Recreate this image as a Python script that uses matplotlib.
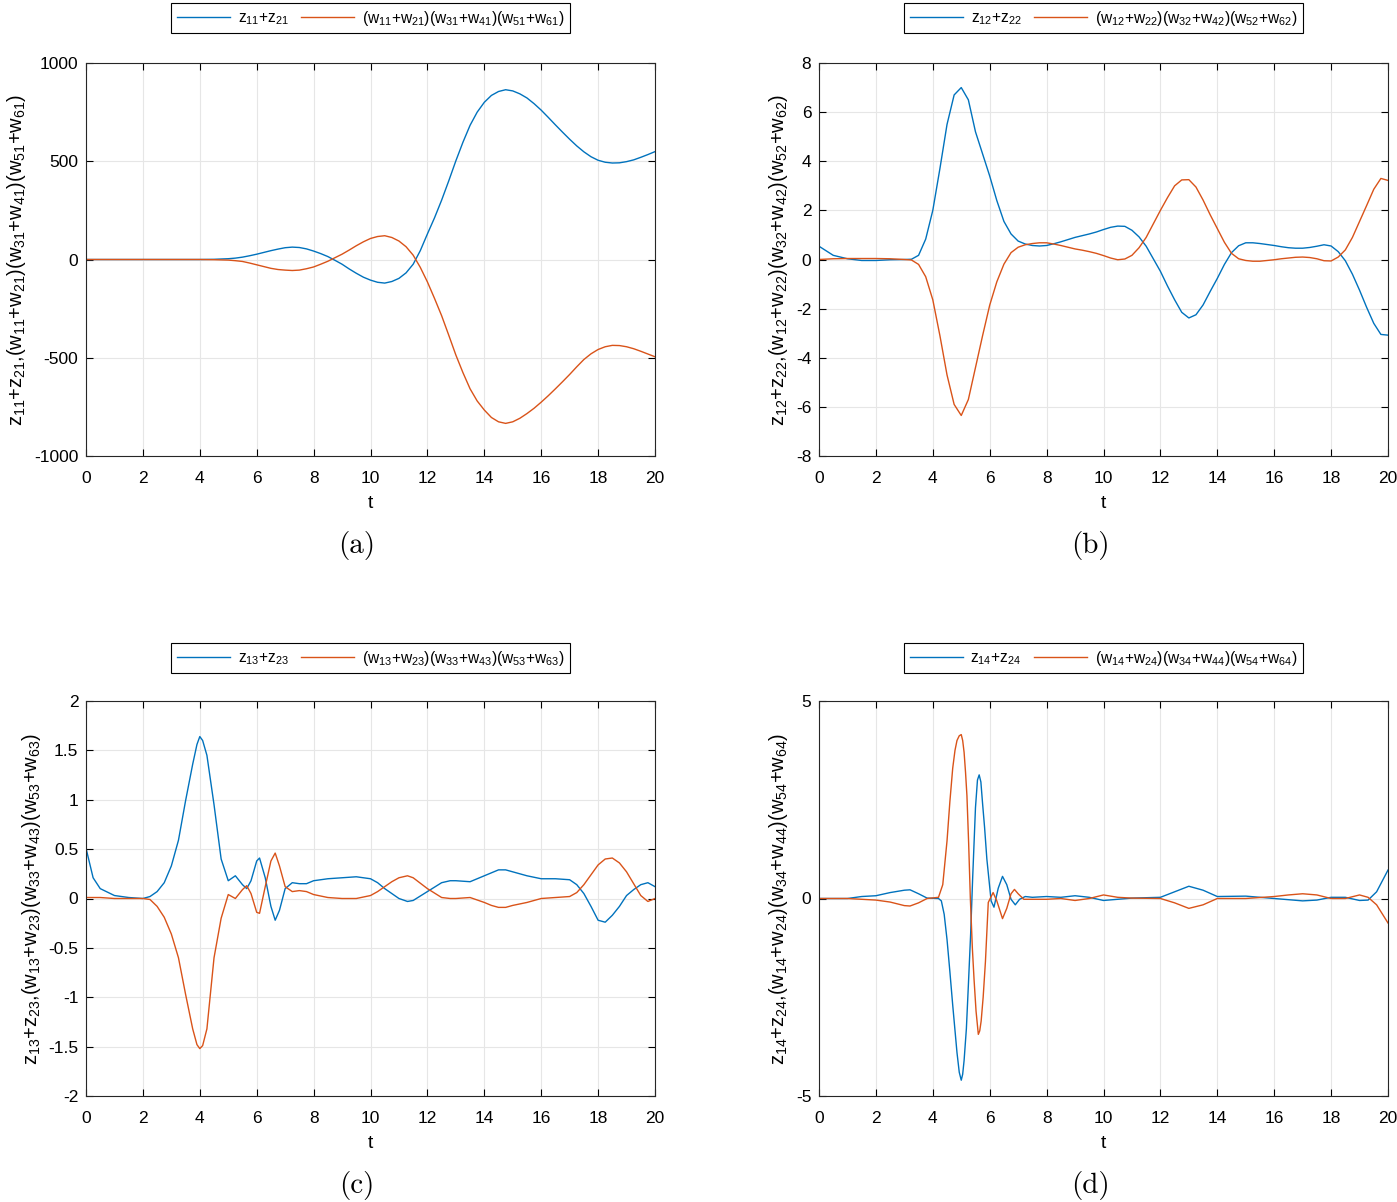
import matplotlib
matplotlib.use('Agg')
import matplotlib.pyplot as plt

plt.rcParams['font.family'] = ['Liberation Sans', 'DejaVu Sans']
plt.rcParams['mathtext.default'] = 'regular'
plt.rcParams['axes.unicode_minus'] = False

# panel (a) values
t_a = [0, 1, 2, 3, 4, 4.5, 5, 5.25, 5.5, 5.75, 6, 6.25, 6.5, 6.75, 7, 7.25, 7.5, 7.75, 8, 8.25, 8.5, 8.75,
       9, 9.25, 9.5, 9.75, 10, 10.25, 10.5, 10.75, 11, 11.25, 11.5, 11.75, 12, 12.25, 12.5, 12.75, 13, 13.25,
       13.5, 13.75, 14, 14.25, 14.5, 14.75, 15, 15.25, 15.5, 15.75, 16, 16.25, 16.5, 16.75, 17, 17.25, 17.5,
       17.75, 18, 18.25, 18.5, 18.75, 19, 19.25, 19.5, 19.75, 20]
z_a = [0, 0, 0, 0, 0, 1, 4, 7, 12, 19, 27, 36, 45, 53, 60, 63, 61, 54, 43, 30, 15, -4,
       -24, -48, -70, -90, -105, -116, -120, -112, -96, -68, -24, 45, 130, 212, 302, 400, 502, 597,
       683, 750, 800, 835, 855, 864, 858, 843, 822, 793, 760, 723, 685, 648, 612, 578, 548,
       523, 505, 495, 491, 492, 498, 507, 520, 534, 549]
w_a = [0, 0, 0, 0, 0, -1, -3, -6, -10, -18, -27, -36, -45, -51, -54, -56, -54, -47, -38, -24, -9, 9,
       27, 48, 70, 90, 107, 117, 121, 112, 94, 65, 22, -40, -114, -198, -286, -385, -486, -576,
       -658, -720, -766, -804, -826, -834, -826, -808, -784, -757, -726, -693, -658, -622, -585, -546, -509,
       -480, -458, -444, -437, -438, -444, -454, -467, -481, -495]

# panel (b)
t_b = [0, 0.5, 1, 1.5, 2, 2.5, 3, 3.25, 3.5, 3.75, 4, 4.25, 4.5, 4.75, 5, 5.25, 5.5, 5.75, 6, 6.25,
       6.5, 6.75, 7, 7.25, 7.5, 7.75, 8, 8.25, 8.5, 8.75, 9, 9.25, 9.5, 9.75, 10, 10.25, 10.5, 10.75,
       11, 11.25, 11.5, 11.75, 12, 12.25, 12.5, 12.75, 13, 13.25, 13.5, 13.75, 14, 14.25, 14.5, 14.75,
       15, 15.25, 15.5, 15.75, 16, 16.25, 16.5, 16.75, 17, 17.25, 17.5, 17.75, 18, 18.25, 18.5, 18.75,
       19, 19.25, 19.5, 19.75, 20]
z_b = [0.54, 0.17, 0.03, -0.04, -0.04, -0.01, 0.0, 0.01, 0.17, 0.83, 2.0, 3.7, 5.5, 6.7, 7.0, 6.5, 5.2, 4.3, 3.4, 2.4,
       1.55, 1.04, 0.75, 0.63, 0.57, 0.55, 0.57, 0.64, 0.72, 0.81, 0.9, 0.97, 1.04, 1.12, 1.22, 1.31, 1.36, 1.35,
       1.19, 0.92, 0.54, 0.03, -0.48, -1.08, -1.64, -2.15, -2.38, -2.25, -1.85, -1.3, -0.77, -0.2, 0.28, 0.56,
       0.68, 0.68, 0.65, 0.61, 0.57, 0.52, 0.48, 0.46, 0.46, 0.49, 0.54, 0.6, 0.55, 0.32, -0.05, -0.6,
       -1.25, -1.95, -2.6, -3.05, -3.08]
w_b = [0.0, 0.03, 0.04, 0.04, 0.04, 0.03, 0.0, -0.02, -0.2, -0.7, -1.64, -3.1, -4.7, -5.9, -6.35, -5.7, -4.4, -3.1, -1.86, -0.91,
       -0.19, 0.28, 0.5, 0.6, 0.65, 0.68, 0.68, 0.63, 0.57, 0.5, 0.43, 0.38, 0.32, 0.25, 0.16, 0.06, -0.01, 0.02,
       0.17, 0.48, 0.9, 1.45, 2.0, 2.52, 3.0, 3.24, 3.25, 2.95, 2.42, 1.82, 1.26, 0.7, 0.25, 0.03,
       -0.04, -0.07, -0.07, -0.04, -0.01, 0.03, 0.06, 0.09, 0.1, 0.08, 0.03, -0.05, -0.06, 0.1, 0.39, 0.9,
       1.55, 2.2, 2.86, 3.3, 3.22]

# panel (c)
t_c = [0, 0.25, 0.5, 1, 1.5, 2, 2.25, 2.5, 2.75, 3, 3.25, 3.5, 3.75, 3.9, 4, 4.1, 4.25, 4.5, 4.75, 5,
       5.25, 5.5, 5.65, 5.8, 6, 6.1, 6.3, 6.5, 6.65, 6.8, 7, 7.25, 7.5, 7.75, 8, 8.5, 9, 9.5, 10, 10.25,
       10.5, 10.75, 11, 11.3, 11.5, 12, 12.5, 12.8, 13, 13.5, 14, 14.25, 14.5, 14.75, 15, 15.5, 16, 16.5, 17, 17.25,
       17.5, 17.75, 18, 18.25, 18.5, 18.75, 19, 19.25, 19.5, 19.75, 20]
z_c = [0.51, 0.21, 0.10, 0.03, 0.01, 0.0, 0.02, 0.07, 0.16, 0.33, 0.59, 0.99, 1.36, 1.56, 1.64, 1.6, 1.45, 0.95, 0.40, 0.18,
       0.23, 0.14, 0.10, 0.18, 0.38, 0.41, 0.21, -0.08, -0.22, -0.12, 0.10, 0.16, 0.15, 0.15, 0.18, 0.20, 0.21, 0.22, 0.20, 0.16,
       0.10, 0.05, 0.0, -0.03, -0.02, 0.07, 0.16, 0.18, 0.18, 0.17, 0.23, 0.26, 0.29, 0.29, 0.27, 0.23, 0.20, 0.20, 0.19, 0.14,
       0.05, -0.08, -0.22, -0.24, -0.17, -0.08, 0.03, 0.09, 0.14, 0.16, 0.12]
w_c = [0.01, 0.01, 0.01, 0.0, 0.0, 0.0, -0.01, -0.08, -0.19, -0.36, -0.6, -0.97, -1.32, -1.48, -1.52, -1.49, -1.32, -0.6, -0.2, 0.04,
       0.0, 0.09, 0.13, 0.05, -0.14, -0.15, 0.12, 0.38, 0.46, 0.33, 0.12, 0.07, 0.08, 0.07, 0.04, 0.01, 0.0, 0.0, 0.03, 0.07,
       0.12, 0.17, 0.21, 0.23, 0.21, 0.10, 0.01, 0.0, 0.0, 0.01, -0.04, -0.07, -0.09, -0.09, -0.07, -0.04, 0.0, 0.01, 0.02, 0.06,
       0.14, 0.24, 0.34, 0.40, 0.41, 0.36, 0.27, 0.15, 0.03, -0.03, 0.0]

# panel (d), the two curves were read at different times
t_dz = [0, 1, 1.5, 2, 2.5, 3, 3.2, 3.5, 3.8, 4.2, 4.3, 4.4, 4.5, 4.6, 4.7, 4.85, 4.93, 5, 5.05, 5.1,
        5.18, 5.25, 5.33, 5.4, 5.5, 5.57, 5.63, 5.69, 5.75, 5.82, 5.9, 6.05, 6.15, 6.3, 6.45, 6.6, 6.75, 6.9, 7.05, 7.25,
        7.5, 8, 8.5, 9, 9.5, 10, 10.5, 11, 12, 12.5, 13, 13.5, 14, 15, 16, 17, 17.5, 18, 18.5, 19,
        19.3, 19.6, 20]
z_d = [0, 0, 0.05, 0.07, 0.15, 0.21, 0.22, 0.12, 0.01, 0, -0.06, -0.4, -1.04, -1.85, -2.7, -3.9, -4.4, -4.6, -4.45, -4.1,
       -3.3, -2.2, -0.9, 0.5, 2.3, 3.0, 3.13, 2.95, 2.4, 1.8, 1.0, -0.06, -0.22, 0.26, 0.56, 0.35, -0.02, -0.16, -0.02, 0.05,
       0.03, 0.05, 0.03, 0.07, 0.03, -0.05, -0.02, 0.01, 0.03, 0.17, 0.31, 0.21, 0.05, 0.06, 0.0, -0.06, -0.04, 0.03, 0.03, -0.05,
       -0.04, 0.17, 0.72]
t_dw = [0, 1, 2, 2.5, 3, 3.2, 3.5, 3.8, 4.2, 4.35, 4.5, 4.6, 4.7, 4.78, 4.85, 4.93, 5, 5.05, 5.1, 5.15,
        5.2, 5.26, 5.32, 5.39, 5.45, 5.52, 5.6, 5.65, 5.7, 5.77, 5.85, 5.95, 6.12, 6.25, 6.45, 6.6, 6.75, 6.87, 7, 7.2,
        7.5, 8, 8.5, 9, 9.5, 10, 10.5, 11, 12, 12.5, 13, 13.5, 14, 15, 16, 16.5, 17, 17.5, 18, 18.5,
        19, 19.3, 19.6, 20]
w_d = [0, 0, -0.04, -0.09, -0.18, -0.19, -0.11, 0, 0.03, 0.35, 1.46, 2.45, 3.3, 3.75, 4.0, 4.12, 4.15, 4.0, 3.7, 3.2,
       2.6, 1.4, 0.0, -1.25, -2.05, -2.85, -3.44, -3.35, -3.1, -2.5, -1.6, -0.1, 0.15, -0.06, -0.51, -0.25, 0.12, 0.23, 0.12, -0.02,
       -0.02, -0.02, 0, -0.05, 0, 0.09, 0.03, 0.01, 0, -0.11, -0.25, -0.16, 0, 0, 0.05, 0.09, 0.12, 0.09, 0, 0,
       0.09, 0.03, -0.16, -0.62]

blue = '#0072BD'
orange = '#D95319'

W, H = 1397, 1202
fig = plt.figure(figsize=(W / 100, H / 100), dpi=100)


def make_axes(left, right, top, bottom):
    # pixel box -> figure fraction
    return fig.add_axes([left / W, 1 - bottom / H, (right - left) / W, (bottom - top) / H])


def draw_panel(ax, tz, z, tw, w, k, ylim, yticks, yticklabels, cap, cap_x, cap_y, leg_gap):
    ax.plot(tz, z, color=blue, lw=1.0, label='z$_{1%d}$+z$_{2%d}$' % (k, k))
    ax.plot(tw, w, color=orange, lw=1.0,
            label='(w$_{1%d}$+w$_{2%d}$)(w$_{3%d}$+w$_{4%d}$)(w$_{5%d}$+w$_{6%d}$)' % (k, k, k, k, k, k))
    ax.set_xlim(0, 20)
    ax.set_ylim(*ylim)
    ax.set_xticks(range(0, 21, 2))
    ax.set_yticks(yticks)
    ax.set_yticklabels(yticklabels)
    ax.grid(True, color='#e6e6e6', lw=0.8)
    ax.set_axisbelow(True)
    ax.tick_params(direction='in', top=True, right=True, length=5, width=0.8, labelsize=12.5)
    ax.tick_params(axis='x', pad=11)
    ax.tick_params(axis='y', pad=5.5)
    for s in ax.spines.values():
        s.set_color('#262626')
        s.set_linewidth(0.8)
    ax.set_xlabel('t', fontsize=14, labelpad=6)
    ax.set_ylabel('z$_{1%d}$+z$_{2%d}$,(w$_{1%d}$+w$_{2%d}$)(w$_{3%d}$+w$_{4%d}$)(w$_{5%d}$+w$_{6%d}$)'
                  % (k, k, k, k, k, k, k, k), fontsize=14.5, labelpad=4)
    leg = ax.legend(ncol=2, loc='lower center', bbox_to_anchor=(0.5, 1 + leg_gap), fontsize=11.2,
                    fancybox=False, edgecolor='black', framealpha=1, handlelength=3.4,
                    handletextpad=0.5, columnspacing=0.8, borderaxespad=0, borderpad=0.35)
    leg.get_frame().set_linewidth(0.8)
    fig.text(cap_x / W, 1 - cap_y / H, cap, family='cmr10', fontsize=21, ha='center', va='center')


ax_a = make_axes(86, 655, 63, 456)
draw_panel(ax_a, t_a, z_a, t_a, w_a, 1, (-1000, 1000), [-1000, -500, 0, 500, 1000],
           ['-1000', '-500', '0', '500', '1000'], '(a)', 357, 545, 30 / 393)

ax_b = make_axes(819, 1388, 63, 456)
draw_panel(ax_b, t_b, z_b, t_b, w_b, 2, (-8, 8), list(range(-8, 9, 2)),
           [str(v) for v in range(-8, 9, 2)], '(b)', 1090, 545, 30 / 393)

ax_c = make_axes(86, 655, 701, 1096)
draw_panel(ax_c, t_c, z_c, t_c, w_c, 3, (-2, 2), [-2, -1.5, -1, -0.5, 0, 0.5, 1, 1.5, 2],
           ['-2', '-1.5', '-1', '-0.5', '0', '0.5', '1', '1.5', '2'], '(c)', 357, 1185, 28 / 395)

ax_d = make_axes(819, 1388, 701, 1096)
draw_panel(ax_d, t_dz, z_d, t_dw, w_d, 4, (-5, 5), [-5, 0, 5], ['-5', '0', '5'], '(d)', 1090, 1185, 28 / 395)

fig.savefig('out.png', dpi=100)
